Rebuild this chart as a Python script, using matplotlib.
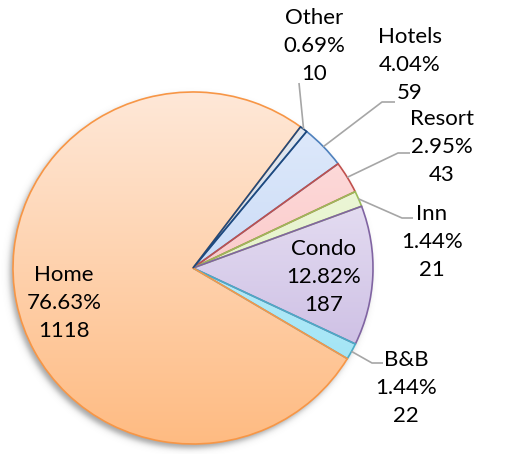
import numpy as np
import matplotlib.pyplot as plt
from matplotlib.colors import to_rgb

# slices, counter-clockwise starting from the lower right
names = ['B&B', 'Condo', 'Inn', 'Resort', 'Hotels', 'Other', 'Home']
counts = [22, 187, 21, 43, 59, 10, 1118]
pcts = ['1.44%', '12.82%', '1.44%', '2.95%', '4.04%', '0.69%', '76.63%']

fill_top = ['#d3f5fd', '#f4f1fa', '#f4fae6', '#ffe3e3', '#e2ecfc', '#e6ebf2', '#ffe8d8']
fill_bottom = ['#95e0f3', '#c0aedd', '#d6ecae', '#f6b3b2', '#b5ccf1', '#c3cddb', '#febb82']
edge_colors = ['#4bacc6', '#8064a2', '#9bbb59', '#c0504d', '#4f81bd', '#1f497d', '#f79646']
edge_z = [3.4, 3.3, 3.2, 3.1, 3.0, 3.6, 3.5]

W, H = 525, 454
CX, CY = 193, 268      # pie centre in pixels (from top-left)
SX, SY = 180, 176      # pixels per data unit


def px(x, y):
    return (x - CX) / SX, (CY - y) / SY


# label block centres and leader elbows (pixels)
label_pos = {'B&B': (406, 388), 'Condo': (324, 277), 'Inn': (432, 242),
             'Resort': (442, 147), 'Hotels': (410, 65), 'Other': (314, 46),
             'Home': (64, 303)}
leaders = {'B&B': [(372, 363), (383, 363)], 'Inn': [(402, 218), (413, 218)],
           'Resort': [(398, 153), (410, 153)], 'Hotels': [(382, 102), (395, 102)],
           'Other': [(299, 83)]}

fig = plt.figure(figsize=(W / 100, H / 100), dpi=100)
ax = fig.add_axes([0, 0, 1, 1])

wedges, _ = ax.pie(counts, startangle=-31, colors=fill_top,
                   wedgeprops=dict(linewidth=1.2))

# soft drop shadow towards lower left
gx, gy = np.meshgrid(np.arange(W) + 0.5, np.arange(H) + 0.5)
d = np.hypot((gx - (CX - 3)) / SX, (gy - (CY + 4)) / SY)
s = (d - 1.0) * 178
alpha = 0.55 / (1 + np.exp(s / 1.8))
shadow = np.zeros((H, W, 4))
shadow[..., :3] = 0.35
shadow[..., 3] = alpha
x0, y1 = px(0, 0)
x1, y0 = px(W, H)
ax.imshow(shadow, extent=(x0, x1, y0, y1), origin='upper', aspect='auto',
          zorder=0.5, interpolation='bilinear')

# vertical gradient fill for each slice
t = np.linspace(0, 1, 256)[:, None, None]
for w, c0, c1, ec, z in zip(wedges, fill_top, fill_bottom, edge_colors, edge_z):
    grad = (1 - t) * np.array(to_rgb(c0)) + t * np.array(to_rgb(c1))
    grad = np.repeat(grad, 2, axis=1)
    im = ax.imshow(grad, extent=(-1, 1, -1, 1), origin='upper', aspect='auto',
                   zorder=2, interpolation='bilinear')
    im.set_clip_path(w)
    w.set_facecolor('none')
    w.set_edgecolor(ec)
    w.set_zorder(z)

# labels and leader lines
for w, name, pct, n in zip(wedges, names, pcts, counts):
    lx, ly = px(*label_pos[name])
    ax.text(lx, ly, f'{name}\n{pct}\n{n}', ha='center', va='center',
            fontsize=16, family='Lato', linespacing=1.48, color='black',
            zorder=5)
    if name in leaders:
        ang = np.deg2rad((w.theta1 + w.theta2) / 2)
        xs = [np.cos(ang)] + [px(*p)[0] for p in leaders[name]]
        ys = [np.sin(ang)] + [px(*p)[1] for p in leaders[name]]
        ax.plot(xs, ys, color='#a6a6a6', lw=1.2, zorder=4,
                solid_capstyle='butt')

ax.set_aspect('auto')
ax.set_xlim(x0, x1)
ax.set_ylim(y0, y1)
ax.axis('off')

fig.savefig('out.png', dpi=100)
